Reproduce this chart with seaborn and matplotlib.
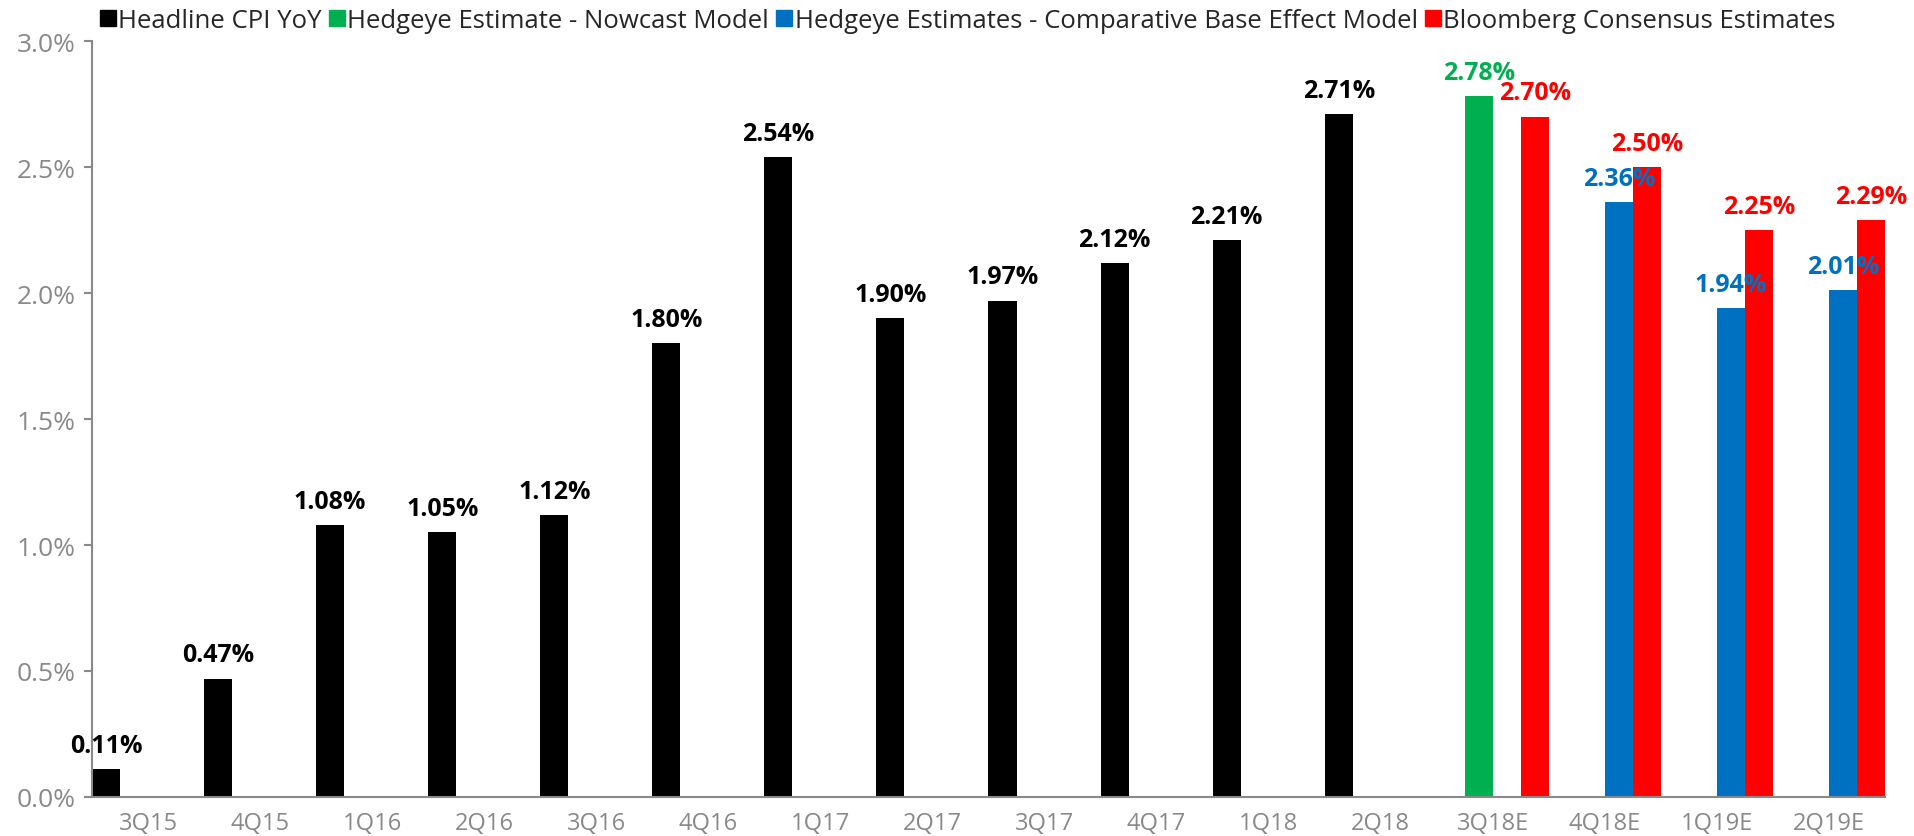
import numpy as np
import pandas as pd
import matplotlib
matplotlib.use("Agg")
import matplotlib.pyplot as plt
from matplotlib.lines import Line2D
from matplotlib.ticker import FuncFormatter, FixedLocator
import seaborn as sns

# Quarterly headline CPI (YoY, %) with estimates for the coming quarters
quarters = ["3Q15", "4Q15", "1Q16", "2Q16", "3Q16", "4Q16", "1Q17", "2Q17",
            "3Q17", "4Q17", "1Q18", "2Q18", "3Q18E", "4Q18E", "1Q19E", "2Q19E"]

headline_cpi = [0.11, 0.47, 1.08, 1.05, 1.12, 1.80, 2.54, 1.90,
                1.97, 2.12, 2.21, 2.71, None, None, None, None]
nowcast = [None, None, None, None, None, None, None, None,
           None, None, None, None, 2.78, None, None, None]
base_effect = [None, None, None, None, None, None, None, None,
               None, None, None, None, None, 2.36, 1.94, 2.01]
consensus = [None, None, None, None, None, None, None, None,
             None, None, None, None, 2.70, 2.50, 2.25, 2.29]

series_names = ["Headline CPI YoY",
                "Hedgeye Estimate - Nowcast Model",
                "Hedgeye Estimates - Comparative Base Effect Model",
                "Bloomberg Consensus Estimates"]
series_colors = ["#000000", "#00B050", "#0070C0", "#FF0000"]
y_ticks = [0.0, 0.5, 1.0, 1.5, 2.0, 2.5, 3.0]

rows = []
for name, vals in zip(series_names, [headline_cpi, nowcast, base_effect, consensus]):
    for q, v in zip(quarters, vals):
        if v is not None:
            rows.append({"quarter": q, "series": name, "value": v})
df = pd.DataFrame(rows)

sns.set_style("white")
plt.rcParams["font.family"] = ["Open Sans", "DejaVu Sans"]

grey = "#898989"
fig = plt.figure(figsize=(19.15, 8.37), dpi=100)
ax = fig.add_axes([92 / 1915, 1 - 798 / 837, (1885 - 92) / 1915, (798 - 42) / 837])

sns.barplot(data=df, x="quarter", y="value", hue="series",
            order=quarters, hue_order=series_names,
            palette=dict(zip(series_names, series_colors)),
            width=1.0, gap=0, dodge=True, errorbar=None, saturation=1,
            linewidth=0, legend=False, ax=ax)

# value labels above each bar, coloured like the bar
present = [n for n in series_names if n in set(df["series"])]
for cont, name in zip(ax.containers, present):
    col = series_colors[series_names.index(name)]
    labels = [f"{b.get_height():.2f}%" for b in cont]
    ax.bar_label(cont, labels=labels, padding=8, color=col,
                 fontsize=18, fontweight="bold")

ax.set_xlim(-0.5, len(quarters) - 0.5)
ax.set_ylim(0, 3.0)
ax.yaxis.set_major_locator(FixedLocator(y_ticks))
ax.yaxis.set_major_formatter(FuncFormatter(lambda v, _: f"{v:.1f}%"))
ax.set_xlabel("")
ax.set_ylabel("")

# category labels centred, tick marks on the boundaries between categories
ax.set_xticks(range(len(quarters)))
ax.set_xticklabels(quarters)
ax.set_xticks(np.arange(-0.5, len(quarters), 1.0), minor=True)
ax.tick_params(axis="x", which="major", length=0, pad=10, labelsize=17, labelcolor=grey)
ax.tick_params(axis="x", which="minor", length=7, width=1.5, color=grey, direction="out")
ax.tick_params(axis="y", which="major", length=6, width=1.5, color=grey, pad=6,
               labelsize=19, labelcolor=grey, left=True)

for side in ["top", "right"]:
    ax.spines[side].set_visible(False)
for side in ["left", "bottom"]:
    ax.spines[side].set_color(grey)
    ax.spines[side].set_linewidth(1.5)

handles = [Line2D([0], [0], marker="s", linestyle="none", markersize=11,
                  markerfacecolor=c, markeredgecolor=c) for c in series_colors]
fig.legend(handles, series_names, loc="center left",
           bbox_to_anchor=(100 / 1915, 1 - 21 / 837), ncol=4, frameon=False,
           fontsize=18.5, handlelength=0.6, handletextpad=0.1, columnspacing=0.3,
           borderpad=0, borderaxespad=0)

fig.savefig("out.png", dpi=100)
